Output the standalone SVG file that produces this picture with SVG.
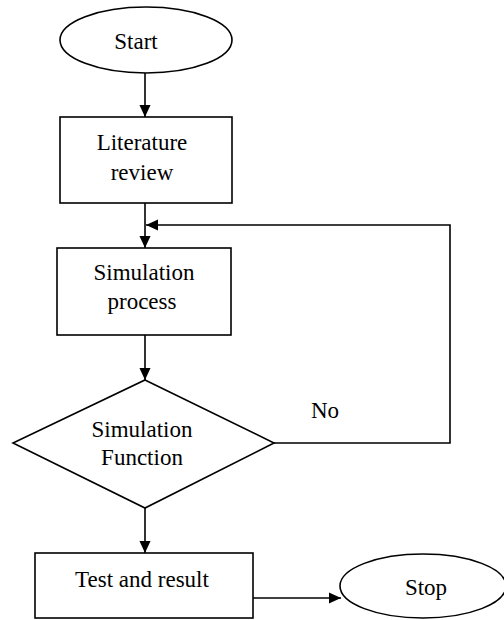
<svg xmlns="http://www.w3.org/2000/svg" width="504" height="620" viewBox="0 0 504 620">
<defs>
<style>
.s{fill:#fff;stroke:#000;stroke-width:1.6}
.c{fill:none;stroke:#000;stroke-width:1.6}
.t{font-family:"Liberation Serif","Times New Roman",serif;font-size:23px;fill:#000;text-anchor:middle}
</style>
<marker id="ah" markerWidth="12" markerHeight="12" viewBox="0 0 13 12" refX="13" refY="6" orient="auto" markerUnits="userSpaceOnUse">
<path d="M0,0 L13,6 L0,12 Z" fill="#000"/>
</marker>
</defs>
<rect width="504" height="620" fill="#fff"/>
<g id="connectors">
<line class="c" x1="145" y1="73" x2="145" y2="117" marker-end="url(#ah)"/>
<line class="c" x1="145" y1="203" x2="145" y2="248" marker-end="url(#ah)"/>
<polyline class="c" points="274,443 450,443 450,225 146,225" marker-end="url(#ah)"/>
<line class="c" x1="145" y1="335" x2="145" y2="380" marker-end="url(#ah)"/>
<line class="c" x1="145" y1="508" x2="145" y2="553" marker-end="url(#ah)"/>
<line class="c" x1="253" y1="598" x2="341" y2="598" marker-end="url(#ah)"/>
<text class="t" x="325" y="418">No</text>
</g>
<g id="start">
<ellipse class="s" cx="146" cy="40" rx="86" ry="33"/>
<text class="t" x="136" y="49">Start</text>
</g>
<g id="literature">
<rect class="s" x="60" y="117" width="172" height="86"/>
<text class="t" x="142" y="150">Literature</text>
<text class="t" x="142" y="180">review</text>
</g>
<g id="simulation-process">
<rect class="s" x="57" y="248" width="174" height="87"/>
<text class="t" x="144" y="280">Simulation</text>
<text class="t" x="142" y="309">process</text>
</g>
<g id="decision">
<polygon class="s" points="145,380 274,443 145,508 13,443"/>
<text class="t" x="142" y="437">Simulation</text>
<text class="t" x="142" y="465">Function</text>
</g>
<g id="test">
<rect class="s" x="35" y="553" width="218" height="65"/>
<text class="t" x="142" y="587">Test and result</text>
</g>
<g id="stop">
<ellipse class="s" cx="423" cy="586" rx="83" ry="32"/>
<text class="t" x="426" y="595">Stop</text>
</g>
</svg>
